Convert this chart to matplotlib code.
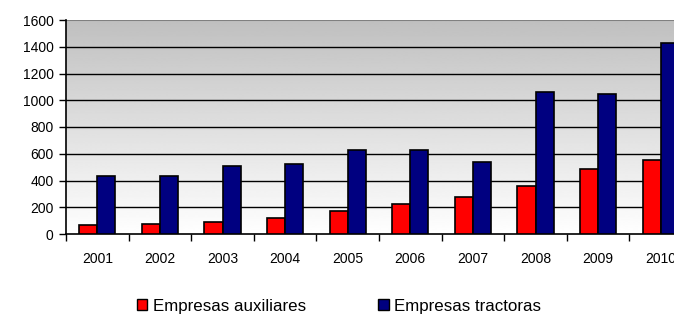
import numpy as np
import matplotlib.pyplot as plt
from matplotlib.patches import Patch

years = ['2001', '2002', '2003', '2004', '2005', '2006', '2007', '2008', '2009', '2010']
auxiliares = [65, 72, 87, 117, 172, 224, 279, 356, 486, 551]
tractoras = [430, 430, 510, 521, 625, 625, 540, 1061, 1046, 1427]

red = '#ff0000'
navy = '#000080'

plt.rcParams['font.family'] = ['Liberation Sans', 'DejaVu Sans']

fig = plt.figure(figsize=(6.74, 3.15), dpi=100)
# plot area runs past the right edge, as in the original
ax = fig.add_axes([66 / 674, 81 / 315, 626 / 674, 214 / 315])

x = np.arange(len(years))
w = 0.29
ax.bar(x - w / 2, auxiliares, w, color=red, edgecolor='black', linewidth=1.2, zorder=3)
ax.bar(x + w / 2, tractoras, w, color=navy, edgecolor='black', linewidth=1.2, zorder=3)

ax.set_xlim(-0.5, len(years) - 0.5)
ax.set_ylim(0, 1600)

# grey (top) to white (bottom) gradient background
grad = np.linspace(0.75, 1.0, 256).reshape(-1, 1)
ax.imshow(grad, extent=(-0.5, len(years) - 0.5, 0, 1600), origin='upper', cmap='gray',
          vmin=0, vmax=1, aspect='auto', zorder=0, interpolation='bilinear')

ax.set_yticks(range(0, 1601, 200))
for v in range(200, 1600, 200):
    ax.axhline(v, color='black', linewidth=1.0, zorder=1)
ax.axhline(1600, color='#808080', linewidth=1.5, zorder=1)

ax.set_xticks(x)
ax.set_xticklabels(years)
ax.set_xticks(np.arange(-0.5, len(years), 1), minor=True)
ax.tick_params(axis='x', which='major', length=0, pad=13, labelsize=10)
ax.tick_params(axis='x', which='minor', length=5, width=1, direction='out')
ax.tick_params(axis='y', length=5, width=1, pad=4, labelsize=10)

for s in ['top', 'right']:
    ax.spines[s].set_visible(False)
ax.spines['left'].set_linewidth(1.2)
ax.spines['bottom'].set_linewidth(1.2)

handles = [Patch(facecolor=red, edgecolor='black', label='Empresas auxiliares'),
           Patch(facecolor=navy, edgecolor='black', label='Empresas tractoras')]
fig.legend(handles=handles, loc='center', bbox_to_anchor=(339 / 674, 1 - 306 / 315),
           ncol=2, frameon=False, fontsize=12.2, handlelength=0.6, handleheight=0.6,
           handletextpad=0.3, columnspacing=4.3)

fig.savefig('out.png', dpi=100)
